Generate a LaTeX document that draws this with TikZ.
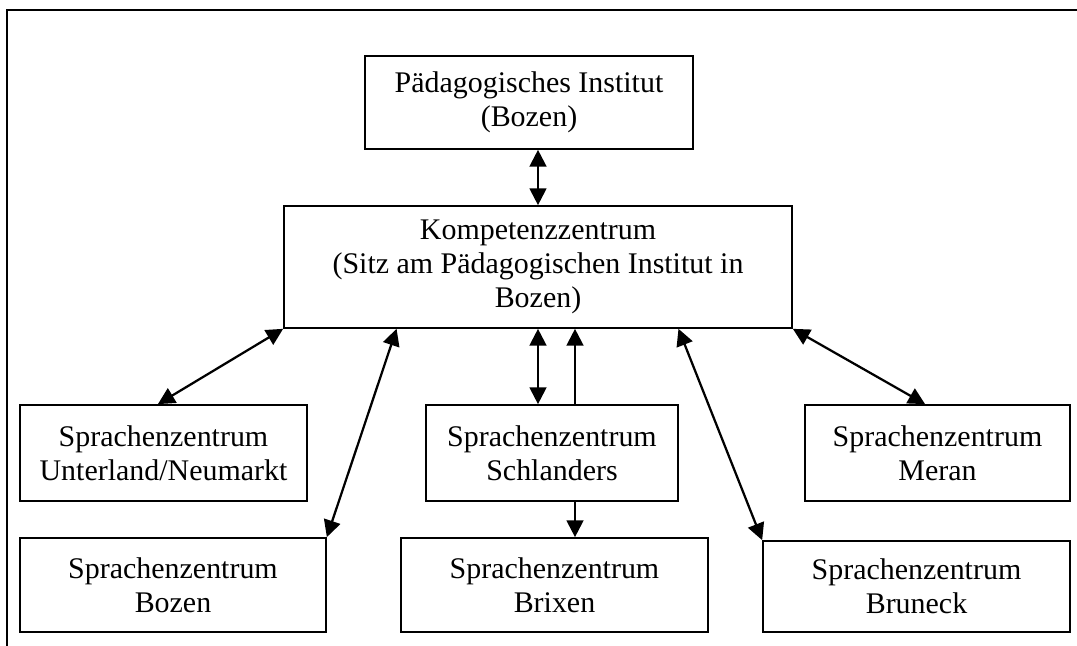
\documentclass[tikz,border=0pt]{standalone}
\usepackage{fontspec}
\setmainfont{Liberation Serif}
\usetikzlibrary{arrows.meta}
\usetikzlibrary{calc}

\tikzset{
    zentrum/.style={draw, line width=1.2pt, align=center, inner sep=0pt,
        font=\fontsize{21.3}{24.2}\selectfont},
    pfeil/.style={line width=1.6pt, -{Triangle[length=0.42cm,width=0.42cm]}},
    doppelpfeil/.style={line width=1.6pt,
        {Triangle[length=0.42cm,width=0.42cm]}-{Triangle[length=0.42cm,width=0.42cm]}},
}

\begin{document}
\begin{tikzpicture}
    \useasboundingbox (0,0) rectangle (26.925,16.15);
    \draw[line width=2pt] (0.175,0) -- (0.175,15.9) -- (26.925,15.9);

    \node[zentrum, minimum width=8.2cm, minimum height=2.325cm] (pi) at (13.225,13.5875)
        {Pädagogisches Institut\\(Bozen)};
    \node[zentrum, minimum width=12.7cm, minimum height=3.05cm] (komp) at (13.45,9.475)
        {Kompetenzzentrum\\(Sitz am Pädagogischen Institut in\\Bozen)};

    \node[zentrum, minimum width=7.175cm, minimum height=2.4cm] (unter) at (4.0875,4.825)
        {Sprachenzentrum\\Unterland/Neumarkt};
    \node[zentrum, minimum width=6.3cm, minimum height=2.4cm] (schl) at (13.8,4.825)
        {Sprachenzentrum\\Schlanders};
    \node[zentrum, minimum width=6.625cm, minimum height=2.4cm] (meran) at (23.4375,4.825)
        {Sprachenzentrum\\Meran};

    \node[zentrum, minimum width=7.65cm, minimum height=2.35cm] (bozen) at (4.325,1.525)
        {Sprachenzentrum\\Bozen};
    \node[zentrum, minimum width=7.675cm, minimum height=2.35cm] (brix) at (13.8625,1.525)
        {Sprachenzentrum\\Brixen};
    \node[zentrum, minimum width=7.675cm, minimum height=2.275cm] (brun) at (22.9125,1.4875)
        {Sprachenzentrum\\Bruneck};

    \coordinate (kb) at ($(komp.south west)!0.2225!(komp.south east)$);
    \coordinate (kr) at ($(komp.south west)!0.7756!(komp.south east)$);

    \draw[doppelpfeil] (komp.north) -- (komp.north |- pi.south);
    \draw[doppelpfeil] (komp.south west) -- ([xshift=-0.14cm]unter.north);
    \draw[doppelpfeil] (kb) -- (bozen.north east);
    \draw[doppelpfeil] (komp.south) -- (komp.south |- schl.north);
    \draw[pfeil] ([xshift=0.575cm]schl.north) -- ([xshift=0.575cm]schl.north |- komp.south);
    \draw[pfeil] ([xshift=0.575cm]schl.south) -- ([xshift=0.575cm]schl.south |- brix.north);
    \draw[doppelpfeil] (kr) -- (brun.north west);
    \draw[doppelpfeil] (komp.south east) -- ([xshift=-0.31cm]meran.north);
\end{tikzpicture}
\end{document}
